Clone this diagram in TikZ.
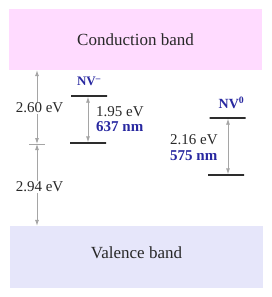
\documentclass[tikz,border=0pt]{standalone}
\usepackage{fontspec}
\setmainfont{Liberation Serif}
\usepackage{xcolor}
\usepackage{tikz}
\usetikzlibrary{arrows.meta, positioning, calc}
\definecolor{cbpink}{RGB}{255,219,255}
\definecolor{vblav}{RGB}{230,230,250}
\definecolor{nvblue}{RGB}{40,40,160}
\definecolor{arrgray}{RGB}{165,165,165}
\definecolor{lvlgray}{RGB}{45,45,45}
\definecolor{txtgray}{RGB}{40,40,40}

\tikzset{
    band/.style={
        draw=none,
        minimum width=253pt,
        inner sep=0pt,
        font=\fontsize{17}{20}\selectfont,
        text=txtgray
    },
    level/.style={
        draw=lvlgray,
        line width=1.3pt,
        minimum width=36pt,
        minimum height=0pt,
        inner sep=0pt
    },
    trans/.style={
        arrgray,
        line width=0.8pt,
        {Latex[length=6pt,width=4pt]}-{Latex[length=6pt,width=4pt]}
    },
    energy/.style={
        font=\fontsize{15}{15}\selectfont,
        text=txtgray,
        align=left,
        inner sep=1pt
    },
    nvlabel/.style={
        text=nvblue,
        inner sep=1pt
    }
}

\begin{document}
\begin{tikzpicture}[x=1pt, y=-1pt]

    \useasboundingbox (0,0) rectangle (272,297);

    % bands
    \node[band, fill=cbpink, minimum height=61pt] (cb) at (135.5,39.5) {Conduction band};
    \node[band, fill=vblav, minimum height=62pt] (vb) at (136.5,257) {};
    \node[band] (vbtext) at ([yshift=4pt]vb.center) {Valence band};

    % gap split
    \coordinate (gap) at (37,144);
    \draw[trans] (cb.south -| gap) -- (gap);
    \draw[trans] (gap) -- (gap |- vb.north);
    \draw[arrgray, line width=0.8pt] ([xshift=-8pt]gap) -- ([xshift=8pt]gap);

    \node[energy, fill=white] (gapup) at (39.5,108) {2.60 eV};
    \node[energy, fill=white] (gaplo) at (39.5,187) {2.94 eV};

    % NV-
    \node[level] (nvmu) at (89,96) {};
    \node[level] (nvml) at (88,143) {};
    \draw[trans] (nvmu.south -| nvml) -- (nvml.north);
    \node[nvlabel, font=\fontsize{13}{15}\selectfont\bfseries, above=8pt of nvmu] (nvm) {NV\textsuperscript{--}};
    \node[energy, anchor=west] (nvmtxt) at (95,119)
        {1.95 eV\\\textcolor{nvblue}{\bfseries 637 nm}};

    % NV0
    \node[level] (nvzu) at (227.5,118) {};
    \node[level] (nvzl) at (226,175) {};
    \draw[trans] (nvzu.south -| 228,0) -- (nvzl.north -| 228,0);
    \node[nvlabel, font=\fontsize{14}{16}\selectfont\bfseries, above=7pt of nvzu, xshift=4pt] (nvz) {NV\textsuperscript{0}};
    \node[energy, anchor=west] (nvztxt) at (169,148)
        {2.16 eV\\[1pt]\textcolor{nvblue}{\bfseries 575 nm}};

\end{tikzpicture}
\end{document}
